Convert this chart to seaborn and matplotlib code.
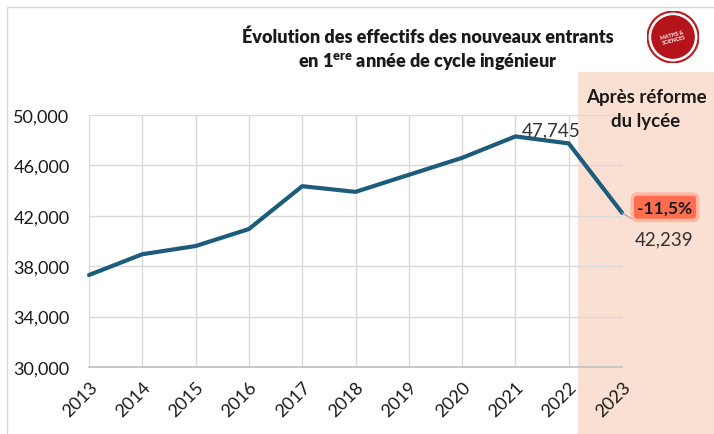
import matplotlib.pyplot as plt
import matplotlib.ticker as mticker
from matplotlib.patches import Rectangle, Circle
import seaborn as sns
import pandas as pd

# données
years = ['2013', '2014', '2015', '2016', '2017', '2018', '2019', '2020', '2021', '2022', '2023']
effectifs = [37300, 38950, 39600, 40950, 44350, 43900, 45250, 46600, 48300, 47745, 42239]
y_ticks = [30000, 34000, 38000, 42000, 46000, 50000]

line_color = '#1d5c7a'
shade_color = '#fadfd3'

sns.set_theme(style="white")
plt.rcParams['font.family'] = ['Lato', 'DejaVu Sans']
plt.rcParams['mathtext.fontset'] = 'custom'
plt.rcParams['mathtext.rm'] = 'Lato'
plt.rcParams['mathtext.bf'] = 'Lato:heavy'

df = pd.DataFrame({'annee': years, 'effectif': effectifs})

W, H = 714, 435
fig = plt.figure(figsize=(W / 100, H / 100), dpi=100)

# cadre du graphique et zone "après réforme"
fig.add_artist(Rectangle((7 / W, 0), 1, 1 - 8 / H, transform=fig.transFigure,
                         facecolor='white', edgecolor='#d9d9d9', lw=1, zorder=-2))
fig.add_artist(Rectangle((578 / W, 0), 1, 1 - 73 / H, transform=fig.transFigure,
                         facecolor=shade_color, edgecolor='none', zorder=-1))

ax = fig.add_axes([89 / W, 1 - 368 / H, (622 - 89) / W, (368 - 116) / H])
ax.patch.set_alpha(0)
ax.set_zorder(1)

sns.lineplot(data=df, x='annee', y='effectif', ax=ax, color=line_color, lw=3, sort=False)
for ln in ax.lines:
    ln.set_clip_on(False)
    ln.set_solid_capstyle('round')

ax.set_xlim(0, len(years) - 1)
ax.set_ylim(30000, 50000)
ax.set_yticks(y_ticks)
ax.yaxis.set_major_formatter(mticker.FuncFormatter(lambda v, p: f"{v:,.0f}"))
ax.set_xlabel('')
ax.set_ylabel('')
ax.grid(True, color='#d9d9d9', lw=1)
for s in ax.spines.values():
    s.set_visible(False)
ax.axhline(30000, color='#c8c8c8', lw=1.5, clip_on=False)
ax.tick_params(axis='y', length=0, pad=14, labelsize=13, labelcolor='#1a1a1a')
ax.tick_params(axis='x', length=0, pad=8, labelsize=13, labelcolor='#1a1a1a')
for lab in ax.get_xticklabels():
    lab.set_rotation(45)
    lab.set_ha('right')
    lab.set_rotation_mode('anchor')

# étiquettes de données
ax.annotate(f"{effectifs[9]:,}", xy=(9, effectifs[9]), xytext=(-13, 10),
            textcoords='offset points', ha='center', va='center',
            fontsize=13.5, color='#333333', annotation_clip=False)
ax.annotate(f"{effectifs[10]:,}", xy=(10, effectifs[10]), xytext=(30, -19),
            textcoords='offset points', ha='center', va='center',
            fontsize=13.5, color='#333333', annotation_clip=False,
            arrowprops=dict(arrowstyle='-', color='#a0a0a0', lw=0.8,
                            shrinkA=12, shrinkB=0))
evol = (effectifs[10] - effectifs[9]) / effectifs[9] * 100
ax.annotate(f"{evol:.1f}%".replace('.', ','), xy=(10, effectifs[10]), xytext=(31, 4),
            textcoords='offset points', ha='center', va='center',
            fontsize=12.5, fontweight='bold', color='#1a1a1a', annotation_clip=False,
            bbox=dict(boxstyle='round,pad=0.3,rounding_size=0.3', facecolor='#ff6f4f',
                      edgecolor='#ffb8a3', lw=2.5))

fig.text(646 / W, 1 - 110 / H, "Après réforme\ndu lycée", ha='center', va='center',
         fontsize=13.5, fontweight='bold', color='#1a1a1a', linespacing=1.5)

# titre
fig.text(428 / W, 1 - 37 / H, "Évolution des effectifs des nouveaux entrants",
         ha='center', va='center', fontsize=13, fontweight='heavy', color='#1a1a1a')
fig.text(428 / W, 1 - 62 / H, r"en 1$^{\mathbf{ere}}$ année de cycle ingénieur",
         ha='center', va='center', fontsize=13, fontweight='heavy', color='#1a1a1a')

# logo
lax = fig.add_axes([647 / W, 1 - 64 / H, 52 / W, 52 / H])
lax.set_zorder(2)
lax.set_xlim(-1, 1)
lax.set_ylim(-1, 1)
lax.set_aspect('equal')
lax.axis('off')
lax.add_patch(Circle((0, 0), 0.98, facecolor='white', edgecolor='#c0171b', lw=1.5))
lax.add_patch(Circle((0, 0), 0.84, facecolor='#b5151a', edgecolor='none'))
lax.text(0, 0, "MATHS &\nSCIENCES", ha='center', va='center', fontsize=3.8,
         color='white', fontweight='bold', rotation=15)

fig.savefig('out.png', dpi=100)
